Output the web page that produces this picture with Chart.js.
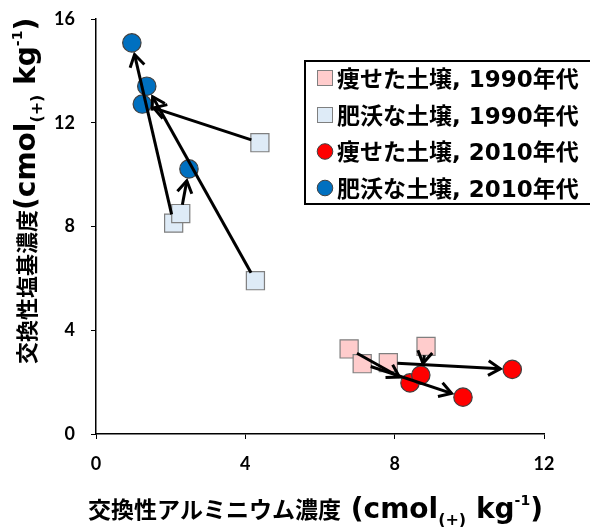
<!DOCTYPE html>
<html><head><meta charset="utf-8">
<script src="https://cdn.jsdelivr.net/npm/chart.js@4"></script>
<style>html,body{margin:0;padding:0;background:#fff;}#wrap{width:590px;height:527px;}</style>
</head><body><div id="wrap"><canvas id="c" width="590" height="527"></canvas></div>
<script>
// ---- data ----
const seriesLabels = ['痩せた土壌, 1990年代', '肥沃な土壌, 1990年代', '痩せた土壌, 2010年代', '肥沃な土壌, 2010年代'];
const poor1990X = [6.78, 7.13, 7.83, 8.84];
const poor1990Y = [3.28, 2.71, 2.75, 3.38];
const fertile1990X = [2.08, 2.27, 4.39, 4.27];
const fertile1990Y = [8.13, 8.50, 11.23, 5.91];
const poor2010X = [8.41, 9.83, 11.15, 8.70];
const poor2010Y = [1.97, 1.42, 2.49, 2.27];
const fertile2010X = [0.96, 2.49, 1.24, 1.36];
const fertile2010Y = [15.08, 10.22, 12.72, 13.41];
const xTickValues = [0, 4, 8, 12];
const yTickValues = [0, 4, 8, 12, 16];
const xTitleParts = [['交換性アルミニウム濃度', 'cjk'], [' (cmol', 'n'], ['(+)', 'sub'], [' kg', 'n'], ['-1', 'sup'], [')', 'n']];
const yTitleParts = [['交換性塩基濃度', 'cjk'], ['(cmol', 'n'], ['(+)', 'sub'], [' kg', 'n'], ['-1', 'sup'], [')', 'n']];

const TICKFONT = 'Lato, "Noto Sans CJK JP", sans-serif';
const CJKFONT = '"Noto Sans CJK JP", sans-serif';
const LATFONT = '"DejaVu Sans", sans-serif';
const toPts = (xs, ys) => xs.map((x, i) => ({x: x, y: ys[i]}));

const styles = [
  {bg: '#FFCCCC', border: '#7F7F7F', shape: 'rect'},
  {bg: '#DEEBF7', border: '#7F7F7F', shape: 'rect'},
  {bg: '#FF0000', border: '#404040', shape: 'circle'},
  {bg: '#0070C0', border: '#404040', shape: 'circle'}
];
const seriesData = [toPts(poor1990X, poor1990Y), toPts(fertile1990X, fertile1990Y), toPts(poor2010X, poor2010Y), toPts(fertile2010X, fertile2010Y)];

const datasets = seriesData.map((d, i) => ({
  label: seriesLabels[i],
  data: d,
  pointStyle: styles[i].shape,
  pointRadius: styles[i].shape === 'rect' ? 12.8 : 9.2,
  pointHoverRadius: styles[i].shape === 'rect' ? 12.8 : 9.2,
  backgroundColor: styles[i].bg,
  borderColor: styles[i].border,
  borderWidth: 1.2,
  showLine: false
}));

// arrows from 1990s to 2010s (pairs by index)
const arrowPairs = [[0, 2], [1, 3]];
const arrowPlugin = {
  id: 'arrows',
  afterDatasetsDraw(chart) {
    const ctx = chart.ctx, xs = chart.scales.x, ys = chart.scales.y;
    ctx.save();
    ctx.strokeStyle = '#000';
    ctx.lineWidth = 3;
    ctx.lineCap = 'butt';
    ctx.lineJoin = 'miter';
    arrowPairs.forEach(([a, b]) => {
      const from = chart.data.datasets[a].data, to = chart.data.datasets[b].data;
      from.forEach((p, i) => {
        const x0 = xs.getPixelForValue(p.x), y0 = ys.getPixelForValue(p.y);
        const x1 = xs.getPixelForValue(to[i].x), y1 = ys.getPixelForValue(to[i].y);
        const dx = x1 - x0, dy = y1 - y0, len = Math.hypot(dx, dy);
        const ux = dx / len, uy = dy / len;
        const sx = x0 + ux * 9, sy = y0 + uy * 9;
        const ex = x1 - ux * 12, ey = y1 - uy * 12;
        ctx.beginPath();
        ctx.moveTo(sx, sy); ctx.lineTo(ex, ey);
        ctx.stroke();
        const ang = Math.atan2(uy, ux), wl = 14, wa = 0.55;
        ctx.beginPath();
        ctx.moveTo(ex - wl * Math.cos(ang - wa), ey - wl * Math.sin(ang - wa));
        ctx.lineTo(ex, ey);
        ctx.lineTo(ex - wl * Math.cos(ang + wa), ey - wl * Math.sin(ang + wa));
        ctx.stroke();
      });
    });
    ctx.restore();
  }
};

// rich text: cjk / normal latin / subscript / superscript, alphabetic baseline at local y=0
function drawRich(ctx, parts, sx, sy, angle, cjkSize, latSize) {
  const fontFor = k => k === 'cjk' ? 'bold ' + cjkSize + 'px ' + CJKFONT
    : k === 'n' ? 'bold ' + latSize + 'px ' + LATFONT
    : k === 'sub' ? 'bold ' + Math.round(latSize * 0.57) + 'px ' + LATFONT
    : 'bold ' + Math.round(latSize * 0.5) + 'px ' + LATFONT;
  ctx.save();
  ctx.translate(sx, sy);
  ctx.rotate(angle);
  ctx.fillStyle = '#000';
  ctx.textBaseline = 'alphabetic';
  ctx.textAlign = 'left';
  let x = 0;
  parts.forEach(([t, k]) => {
    ctx.font = fontFor(k);
    const off = k === 'sub' ? 7 : (k === 'sup' ? -13 : 0);
    ctx.fillText(t, x, off);
    x += ctx.measureText(t).width;
  });
  ctx.restore();
}

const titlePlugin = {
  id: 'richTitles',
  afterDraw(chart) {
    const ctx = chart.ctx;
    drawRich(ctx, xTitleParts, 88, 518, 0, 23, 28);
    drawRich(ctx, yTitleParts, 35, 364, -Math.PI / 2, 22, 28);
  }
};

function drawMixed(ctx, text, x, y, cjkSize, latSize) {
  const runs = text.match(/[\u3000-\u9fff\uff00-\uffef]+|[^\u3000-\u9fff\uff00-\uffef]+/g) || [];
  runs.forEach(r => {
    const cjk = /[\u3000-\u9fff\uff00-\uffef]/.test(r);
    ctx.font = 'bold ' + (cjk ? cjkSize + 'px ' + CJKFONT : latSize + 'px ' + LATFONT);
    ctx.fillText(r, x, y);
    x += ctx.measureText(r).width;
  });
}

const legendPlugin = {
  id: 'boxLegend',
  afterDraw(chart) {
    const ctx = chart.ctx;
    ctx.save();
    ctx.strokeStyle = '#000';
    ctx.lineWidth = 2;
    ctx.strokeRect(305, 61, 320, 143);
    const rowY = [78, 115, 151.5, 188];
    chart.data.datasets.forEach((ds, i) => {
      const y = rowY[i], x = 325;
      ctx.fillStyle = ds.backgroundColor;
      ctx.strokeStyle = ds.borderColor;
      ctx.lineWidth = 1;
      if (ds.pointStyle === 'rect') {
        ctx.fillRect(x - 7.5, y - 7.5, 15, 15);
        ctx.strokeRect(x - 7.5, y - 7.5, 15, 15);
      } else {
        ctx.beginPath(); ctx.arc(x, y, 7.8, 0, Math.PI * 2); ctx.fill(); ctx.stroke();
      }
      ctx.fillStyle = '#000';
      ctx.textBaseline = 'alphabetic';
      ctx.textAlign = 'left';
      drawMixed(ctx, ds.label, 337, y + 8.5, 23, 23);
    });
    ctx.restore();
  }
};

const noScalePad = s => { s.paddingTop = 0; s.paddingBottom = 0; s.paddingLeft = 0; s.paddingRight = 0; };

new Chart(document.getElementById('c'), {
  type: 'scatter',
  data: {datasets: datasets},
  options: {
    responsive: false,
    animation: false,
    events: [],
    layout: {padding: {top: 19, right: 46, left: 0, bottom: 0}},
    plugins: {legend: {display: false}, tooltip: {enabled: false}},
    scales: {
      x: {
        type: 'linear', min: 0, max: 12,
        afterBuildTicks: s => { s.ticks = xTickValues.map(v => ({value: v})); },
        afterFit: s => { s.height = 93; noScalePad(s); },
        grid: {drawOnChartArea: false, drawTicks: true, tickLength: 5, color: '#000', lineWidth: 1},
        border: {display: true, color: '#000', width: 1.5},
        ticks: {color: '#000', padding: 14, font: {family: TICKFONT, size: 18, weight: 'bold'}}
      },
      y: {
        type: 'linear', min: 0, max: 16,
        afterBuildTicks: s => { s.ticks = yTickValues.map(v => ({value: v})); },
        afterFit: s => { s.width = 96; noScalePad(s); },
        grid: {drawOnChartArea: false, drawTicks: true, tickLength: 5, color: '#000', lineWidth: 1},
        border: {display: true, color: '#000', width: 1.5},
        ticks: {color: '#000', padding: 16, font: {family: TICKFONT, size: 18, weight: 'bold'}}
      }
    }
  },
  plugins: [arrowPlugin, legendPlugin, titlePlugin]
});
</script></body></html>
